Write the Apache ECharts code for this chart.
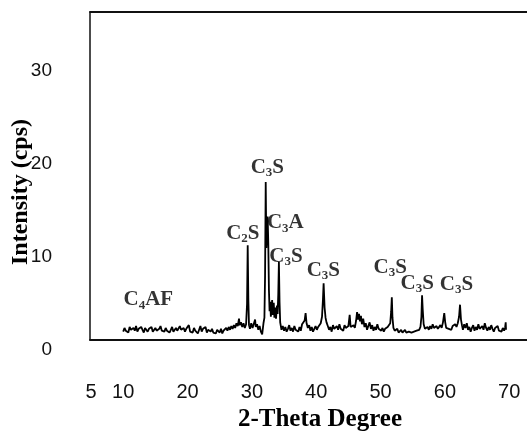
<!DOCTYPE html>
<html>
<head>
<meta charset="utf-8">
<script src="https://cdn.jsdelivr.net/npm/echarts@6/dist/echarts.min.js"></script>
<style>
  html, body { margin: 0; padding: 0; background: #fff; }
  #chart { width: 527px; height: 439px; }
</style>
</head>
<body>
<div id="chart"></div>
<script>
// XRD pattern of the clinker sample: 2-theta (degrees) vs intensity (cps)
const twoTheta = [
  10.0, 10.2, 10.4, 10.6, 10.8, 11.0, 11.2, 11.4, 11.6, 11.8,
  12.0, 12.2, 12.4, 12.6, 12.8, 13.0, 13.2, 13.4, 13.6, 13.8,
  14.0, 14.2, 14.4, 14.6, 14.8, 15.0, 15.2, 15.4, 15.6, 15.8,
  16.0, 16.2, 16.4, 16.6, 16.8, 17.0, 17.2, 17.4, 17.6, 17.8,
  18.0, 18.2, 18.4, 18.6, 18.8, 19.0, 19.2, 19.4, 19.6, 19.8,
  20.0, 20.2, 20.4, 20.6, 20.8, 21.0, 21.2, 21.4, 21.6, 21.8,
  22.0, 22.2, 22.4, 22.6, 22.8, 23.0, 23.2, 23.4, 23.6, 23.8,
  24.0, 24.2, 24.4, 24.6, 24.8, 25.0, 25.2, 25.4, 25.6, 25.8,
  26.0, 26.2, 26.4, 26.6, 26.8, 27.0, 27.2, 27.4, 27.6, 27.8,
  28.0, 28.1, 28.3, 28.5, 28.7, 28.9, 29.1, 29.25, 29.35, 29.45,
  29.55, 29.7, 29.9, 30.1, 30.3, 30.5, 30.6, 30.8, 31.0, 31.2,
  31.4, 31.6, 31.8, 31.95, 32.05, 32.15, 32.25, 32.35, 32.45, 32.55,
  32.65, 32.75, 32.85, 32.95, 33.05, 33.15, 33.25, 33.4, 33.5, 33.6,
  33.75, 33.9, 34.0, 34.1, 34.2, 34.3, 34.4, 34.6, 34.8, 35.0,
  35.2, 35.4, 35.6, 35.8, 36.0, 36.2, 36.4, 36.6, 36.8, 37.0,
  37.2, 37.4, 37.6, 37.8, 38.0, 38.2, 38.35, 38.5, 38.7, 38.9,
  39.1, 39.3, 39.5, 39.7, 39.9, 40.1, 40.3, 40.5, 40.7, 40.9,
  41.05, 41.15, 41.3, 41.45, 41.6, 41.8, 42.0, 42.2, 42.4, 42.6,
  42.8, 43.0, 43.2, 43.4, 43.6, 43.8, 44.0, 44.2, 44.4, 44.6,
  44.8, 45.0, 45.2, 45.35, 45.6, 45.8, 46.0, 46.2, 46.35, 46.5,
  46.65, 46.8, 46.95, 47.1, 47.3, 47.5, 47.7, 47.9, 48.1, 48.3,
  48.5, 48.7, 48.9, 49.1, 49.3, 49.5, 49.7, 49.9, 50.1, 50.3,
  50.5, 50.7, 50.9, 51.1, 51.3, 51.5, 51.65, 51.75, 51.85, 52.0,
  52.2, 52.4, 52.6, 52.8, 53.0, 53.2, 53.4, 53.6, 53.8, 54.0,
  54.2, 54.4, 54.6, 54.8, 55.0, 55.2, 55.4, 55.6, 55.8, 56.0,
  56.2, 56.35, 56.45, 56.55, 56.7, 56.9, 57.1, 57.3, 57.5, 57.7,
  57.9, 58.1, 58.3, 58.5, 58.7, 58.9, 59.1, 59.3, 59.5, 59.7,
  59.9, 60.05, 60.2, 60.4, 60.6, 60.8, 61.0, 61.2, 61.4, 61.6,
  61.8, 62.0, 62.2, 62.35, 62.5, 62.65, 62.8, 63.0, 63.2, 63.4,
  63.6, 63.8, 64.0, 64.2, 64.4, 64.6, 64.8, 65.0, 65.2, 65.4,
  65.6, 65.8, 66.0, 66.2, 66.4, 66.6, 66.8, 67.0, 67.2, 67.4,
  67.6, 67.8, 68.0, 68.2, 68.4, 68.6, 68.8, 69.0, 69.2, 69.35,
  69.45, 69.5
];
const intensity = [
  0.9, 1.3, 1.0, 1.2, 0.8, 1.4, 1.1, 0.9, 1.3, 1.0,
  1.5, 0.9, 1.2, 1.0, 1.4, 1.1, 0.8, 1.3, 1.1, 0.9,
  1.2, 1.0, 1.4, 0.9, 1.1, 1.3, 1.0, 0.8, 1.2, 1.5,
  1.0, 1.1, 0.9, 1.3, 1.0, 1.2, 0.8, 1.1, 1.4, 0.9,
  1.1, 1.3, 1.0, 0.9, 1.5, 1.1, 1.0, 1.3, 0.9, 1.2,
  1.0, 1.6, 0.9, 1.1, 0.8, 1.3, 1.0, 1.2, 0.7, 1.1,
  1.5, 0.9, 1.2, 1.0, 1.4, 0.8, 1.1, 1.3, 0.9, 1.2,
  0.8, 1.0, 0.7, 1.1, 0.9, 0.8, 1.2, 0.7, 1.0, 0.9,
  1.3, 1.0, 1.4, 1.1, 1.5, 1.2, 1.6, 1.3, 1.8, 1.5,
  2.3, 1.6, 1.9, 1.4, 1.8, 1.3, 1.7, 3.9, 10.2, 4.4,
  1.6, 1.2, 1.8, 1.3, 1.5, 2.2, 1.4, 1.7, 1.1, 1.5,
  0.9, 0.6, 1.8, 2.4, 6.9, 17.0, 9.9, 11.4, 13.3, 10.4,
  5.4, 3.1, 4.1, 2.5, 3.3, 4.3, 2.7, 4.0, 2.4, 3.5,
  2.3, 3.7, 2.8, 4.9, 8.4, 4.1, 1.9, 1.1, 1.5, 1.0,
  1.4, 0.9, 1.2, 1.6, 1.0, 1.3, 0.9, 1.5, 1.1, 1.3,
  0.9, 1.4, 1.0, 1.7, 1.5, 2.1, 2.9, 1.8, 1.3, 1.6,
  1.0, 1.4, 0.9, 1.2, 1.5, 1.1, 1.4, 1.3, 1.8, 2.5,
  4.4, 6.1, 3.5, 2.4, 1.9, 1.5, 1.1, 1.4, 0.9, 1.6,
  1.2, 1.0, 1.5, 1.1, 1.7, 1.2, 1.4, 1.0, 1.6, 1.3,
  1.1, 1.5, 2.7, 1.4, 1.2, 1.6, 1.3, 2.1, 3.0, 2.2,
  2.8, 2.0, 2.6, 1.7, 2.3, 1.4, 1.8, 1.1, 1.5, 1.9,
  1.2, 1.6, 1.0, 1.4, 1.1, 1.7, 1.2, 1.4, 1.0, 1.3,
  0.9, 1.2, 1.1, 1.4, 1.2, 1.8, 3.1, 4.6, 2.4, 1.3,
  1.0, 0.9, 1.2, 0.8, 1.0, 1.1, 0.8, 0.9, 1.1, 0.8,
  1.0, 0.9, 1.1, 0.8, 1.0, 0.9, 1.1, 1.0, 1.2, 1.1,
  1.4, 2.5, 4.8, 3.3, 1.7, 1.2, 1.0, 1.4, 1.1, 1.5,
  1.2, 1.7, 1.3, 1.1, 1.5, 1.2, 1.4, 1.6, 1.3, 1.9,
  2.9, 1.9, 1.3, 1.5, 1.2, 1.4, 1.1, 1.5, 1.3, 1.7,
  1.4, 1.8, 2.5, 3.8, 2.2, 1.6, 1.1, 1.7, 1.3, 1.8,
  1.1, 1.4, 0.9, 1.3, 1.6, 1.0, 1.4, 1.1, 1.7, 1.2,
  1.0, 1.5, 1.1, 1.8, 1.3, 1.0, 1.4, 1.1, 1.6, 1.2,
  0.9, 1.3, 1.1, 1.5, 1.0, 1.2, 0.9, 1.3, 1.0, 1.3,
  1.9, 1.1
];

// Phase annotations: text (with subscript digit) placed in data coordinates
const phaseNames = ['C4AF', 'C2S', 'C3S', 'C3A', 'C3S', 'C3S', 'C3S', 'C3S', 'C3S'];
const phaseLabelX = [13.9, 28.6, 32.4, 35.2, 35.3, 41.1, 51.5, 55.7, 61.8];
const phaseLabelY = [4.3, 11.5, 18.6, 12.6, 9.0, 7.5, 7.8, 6.1, 6.0];

// Axis tick labels
const xTickValues = [5, 10, 20, 30, 40, 50, 60, 70];
const yTickValues = [0, 10, 20, 30];

const serif = '"Liberation Serif", "Times New Roman", serif';
const narrowSans = '"Liberation Sans Narrow", "Liberation Sans", Arial, sans-serif';
const frameLine = { color: '#111', width: 1.8 };

function phaseRich(name) {
  // "C3S" -> C + subscript 3 + S
  return '{m|C}{s|' + name.charAt(1) + '}{m|' + name.slice(2) + '}';
}

const pattern = twoTheta.map((t, i) => [t, intensity[i]]);
const phaseData = phaseNames.map((n, i) => ({ value: [phaseLabelX[i], phaseLabelY[i]], name: n }));

const chart = echarts.init(document.getElementById('chart'), null, { renderer: 'canvas' });
chart.setOption({
  animation: false,
  backgroundColor: '#ffffff',
  // plot frame runs past the right edge of the canvas, so only top/left/bottom lines show
  grid: { left: 90, top: 12, bottom: 99, right: 0, show: false },
  xAxis: [
    {
      type: 'value', min: 4.84, max: 72.76, position: 'bottom',
      axisLine: { show: true, onZero: false, lineStyle: frameLine },
      axisTick: { show: false },
      splitLine: { show: false },
      axisLabel: {
        customValues: xTickValues,
        margin: 42,
        fontFamily: narrowSans, fontSize: 20, color: '#111'
      }
    },
    {
      type: 'value', min: 4.84, max: 72.76, position: 'top',
      axisLine: { show: true, onZero: false, lineStyle: frameLine },
      axisTick: { show: false },
      axisLabel: { show: false },
      splitLine: { show: false }
    }
  ],
  yAxis: {
    type: 'value', min: 0, max: 35.3,
    axisLine: { show: true, onZero: false, lineStyle: { color: '#111', width: 1.5 } },
    axisTick: { show: false },
    splitLine: { show: false },
    axisLabel: {
      customValues: yTickValues,
      margin: 38,
      verticalAlign: 'top',
      fontFamily: narrowSans, fontSize: 19, color: '#111'
    }
  },
  graphic: [
    {
      type: 'text', x: 320, y: 420,
      style: {
        text: '2-Theta Degree', fill: '#000',
        font: 'bold 25px ' + serif, align: 'center', verticalAlign: 'middle'
      }
    },
    {
      type: 'text', x: 21, y: 192, rotation: Math.PI / 2,
      style: {
        text: 'Intensity (cps)', fill: '#000',
        font: 'bold 24px ' + serif, align: 'center', verticalAlign: 'middle'
      }
    }
  ],
  series: [
    {
      type: 'line',
      xAxisIndex: 0,
      data: pattern,
      symbol: 'none',
      lineStyle: { color: '#000', width: 1.8 },
      z: 2
    },
    {
      type: 'scatter',
      xAxisIndex: 0,
      data: phaseData,
      symbolSize: 0,
      silent: true,
      z: 3,
      label: {
        show: true,
        position: 'inside',
        formatter: p => phaseRich(p.name),
        rich: {
          m: { fontFamily: serif, fontWeight: 'bold', fontSize: 21, color: '#000', lineHeight: 24 },
          s: { fontFamily: serif, fontWeight: 'bold', fontSize: 13, color: '#000', lineHeight: 15, verticalAlign: 'bottom' }
        }
      }
    }
  ]
});
</script>
</body>
</html>
